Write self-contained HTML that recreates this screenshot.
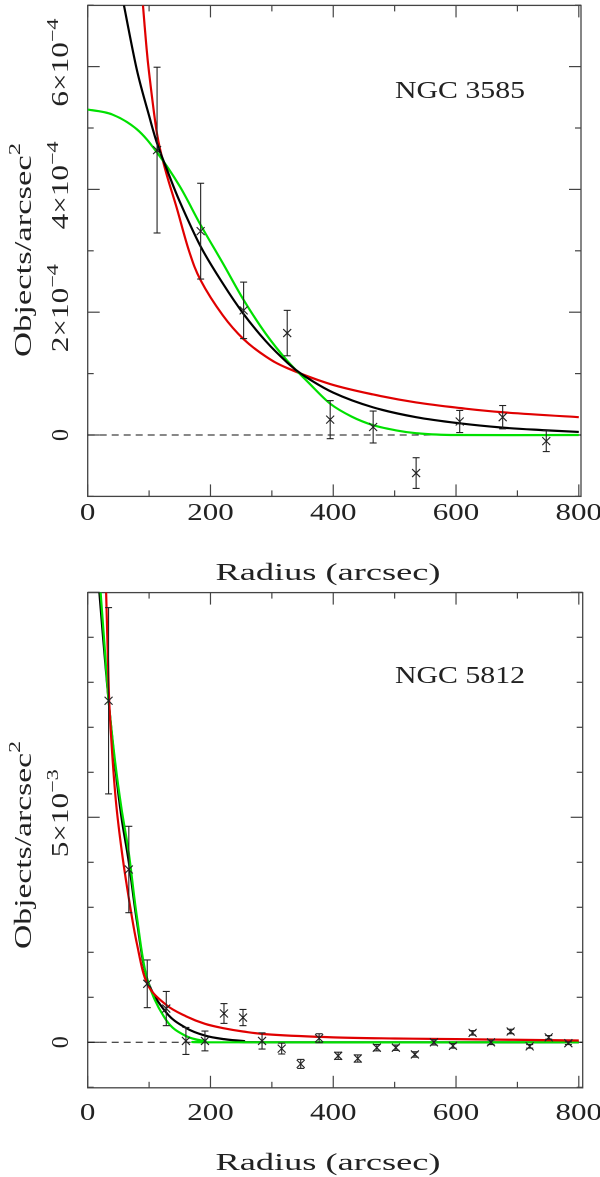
<!DOCTYPE html>
<html><head><meta charset="utf-8"><style>
html,body{margin:0;padding:0;background:#fff;}
svg{display:block;}
text{font-family:"Liberation Serif","DejaVu Serif",serif;fill:#222;}
</style></head>
<body>
<svg id="fig" width="600" height="1177" viewBox="0 0 600 1177" xmlns="http://www.w3.org/2000/svg">
<g id="p1"></g>
<g id="p2"></g>
</svg>
<script>
// ---------- Panel 1 data (NGC 3585), y in units of 1e-4 ----------
const p1R = [113,184,254,325,395,465,535,606,676,747];
const p1Val = [4.64,3.32,2.03,1.66,0.25,0.13,-0.62,0.22,0.29,-0.10];
const p1Err = [1.35,0.78,0.46,0.37,0.31,0.26,0.25,0.18,0.19,0.17];
const p1BlackR = [59,80,100,113,130,150,184,220,254,290,325,350,400,465,535,606,676,740,800];
const p1BlackV = [7.0,5.95,5.2,4.75,4.3,3.8,3.07,2.47,1.97,1.53,1.18,0.98,0.69,0.45,0.29,0.19,0.12,0.08,0.05];
const p1RedR = [90,95,100,113,127,145,165,184,220,254,290,325,395,465,535,606,676,800];
const p1RedV = [7.0,6.4,5.9,4.9,4.3,3.7,3.0,2.52,1.95,1.56,1.28,1.09,0.83,0.66,0.53,0.44,0.37,0.29];
const p1GreenR = [0,40,80,113,150,184,220,254,290,325,360,395,430,465,500,535,600,800];
const p1GreenV = [5.3,5.22,4.98,4.6,4.05,3.42,2.8,2.2,1.65,1.21,0.85,0.51,0.3,0.16,0.08,0.03,0.0,0.0];
const p1YTicks = [0,2,4,6];
const p1YLabels = ["0","2×10","4×10","6×10"];
const p1YExp = ["","−4","−4","−4"];

// ---------- Panel 2 data (NGC 5812), y in units of 1e-3 ----------
const p2R = [34,67,97,128,160,191,222,253,284,316,347,377,408,440,471,502,533,564,595,627,657,689,720,751,783];
const p2Val = [7.59,3.84,1.30,0.75,0.03,0.03,0.64,0.55,0.03,-0.14,-0.48,0.09,-0.30,-0.36,-0.12,-0.12,-0.27,0.0,-0.08,0.21,0.0,0.24,-0.09,0.11,-0.02];
const p2Err = [2.07,0.96,0.53,0.38,0.30,0.22,0.22,0.18,0.18,0.12,0.10,0.10,0.08,0.08,0.07,0.06,0.06,0.06,0.05,0.05,0.05,0.05,0.04,0.04,0.03];
const p2BlackR = [19,25,34,45,55,67,80,97,128,160,191,222,253,300,800];
const p2BlackV = [10,9.0,7.6,6.1,5.0,4.0,2.7,1.4,0.66,0.32,0.15,0.07,0.03,0.0,0.0];
const p2RedR = [30,33,36,45,55,67,80,97,128,160,191,222,253,300,400,500,600,800];
const p2RedV = [10,8.5,7.3,5.5,4.3,3.2,2.2,1.3,0.83,0.58,0.41,0.31,0.24,0.17,0.11,0.085,0.07,0.04];
const p2GreenR = [21,27,34,45,55,67,80,97,128,160,191,222,800];
const p2GreenV = [10,8.9,7.6,6.2,5.2,4.2,2.8,1.4,0.49,0.14,0.03,0.0,0.0];
const p2YTicks = [0,5];
const p2YLabels = ["0","5×10"];
const p2YExp = ["","−3"];
const xTicks = [0,200,400,600,800];

const NS = "http://www.w3.org/2000/svg";
function mk(parent, tag, attrs){
  const e = document.createElementNS(NS, tag);
  for (const k in attrs) e.setAttribute(k, attrs[k]);
  parent.appendChild(e);
  return e;
}
function smoothPath(pts){
  let d = "M"+pts[0][0].toFixed(2)+","+pts[0][1].toFixed(2);
  for (let i=0;i<pts.length-1;i++){
    const p0 = pts[Math.max(0,i-1)], p1 = pts[i], p2 = pts[i+1], p3 = pts[Math.min(pts.length-1,i+2)];
    const c1x = p1[0]+(p2[0]-p0[0])/6, c1y = p1[1]+(p2[1]-p0[1])/6;
    const c2x = p2[0]-(p3[0]-p1[0])/6, c2y = p2[1]-(p3[1]-p1[1])/6;
    d += " C"+c1x.toFixed(2)+","+c1y.toFixed(2)+" "+c2x.toFixed(2)+","+c2y.toFixed(2)+" "+p2[0].toFixed(2)+","+p2[1].toFixed(2);
  }
  return d;
}

function panel(g, cfg){
  const L=cfg.L, R=cfg.R, T=cfg.T, B=cfg.B;
  const xS = v => 87.7 + (v/800)*(578.8-87.7);
  const yS = v => cfg.y0 - v*cfg.yUnit;
  const defs = mk(g,'clipPath',{id:cfg.id+'clip'});
  mk(defs,'rect',{x:L,y:T,width:R-L,height:B-T});
  const fr = mk(g,'rect',{x:L,y:T,width:R-L,height:B-T,fill:'none',stroke:'#444','stroke-width':1.3});
  
  
  for (let v=0; v<=800; v+=100){
    const x = xS(v), len = (v%200===0)?12:6;
    const t1 = mk(g,'line',{x1:x,y1:B,x2:x,y2:B-len,stroke:'#444','stroke-width':1.2});
    
    
    const t2 = mk(g,'line',{x1:x,y1:T,x2:x,y2:T+len,stroke:'#444','stroke-width':1.2});
    
    
  }
  xTicks.forEach(v=>{
    const s = String(v);
    const t = mk(g,'text',{x:xS(v),y:cfg.xLabY,'font-size':24,'text-anchor':'middle',textLength:s.length*15.5,lengthAdjust:'spacingAndGlyphs'});
    t.textContent = s;
    
    
  });
  for (let v=cfg.yMin; v<=cfg.yMax+1e-9; v+=1){
    const y = yS(v), len = (cfg.major(v))?12:6;
    if (y<T-0.5||y>B+0.5) continue;
    const t1 = mk(g,'line',{x1:L,y1:y,x2:L+len,y2:y,stroke:'#444','stroke-width':1.2});
    
    
    const t2 = mk(g,'line',{x1:R,y1:y,x2:R-len,y2:y,stroke:'#444','stroke-width':1.2});
    
    
  }
  cfg.yTicks.forEach((v,i)=>{
    const y = yS(v) - (cfg.yExp[i]?4:0);
    const attrs = {transform:'translate(68,'+y+') rotate(-90)','font-size':24,'text-anchor':'middle'};
    if (cfg.yExp[i]) { attrs.textLength = 88; attrs.lengthAdjust = 'spacingAndGlyphs'; }
    const t = mk(g,'text',attrs);
    
    
    t.textContent = cfg.yLabels[i];
    if (cfg.yExp[i]){
      const s = mk(t,'tspan',{dy:-10,'font-size':17});
      s.textContent = cfg.yExp[i];
    }
  });
  const yt = mk(g,'text',{transform:'translate(31,'+cfg.titleY+') rotate(-90)','font-size':24,'text-anchor':'middle',textLength:cfg.titleLen,lengthAdjust:'spacingAndGlyphs'});
  
  
  yt.textContent = 'Objects/arcsec';
  const sup = mk(yt,'tspan',{dy:-11,'font-size':17}); sup.textContent='2';
  const xt = mk(g,'text',{x:328,y:cfg.xTitleY,'font-size':24,'text-anchor':'middle',textLength:225,lengthAdjust:'spacingAndGlyphs'});
  
  
  xt.textContent = 'Radius (arcsec)';
  const nm = mk(g,'text',{x:395,y:cfg.nameY,'font-size':24,textLength:130,lengthAdjust:'spacingAndGlyphs'});
  
  
  nm.textContent = cfg.name;
  const zl = mk(g,'line',{x1:L,y1:yS(0),x2:R,y2:yS(0),stroke:'#111','stroke-width':1,'stroke-dasharray':'7,5'});
  
  
  const cg = mk(g,'g',{'clip-path':'url(#'+cfg.id+'clip)'});
  cfg.curves.forEach(c=>{
    const pts = c.r.map((r,i)=>[xS(r),yS(c.v[i])]);
    const p = mk(cg,'path',{d:smoothPath(pts),fill:'none',stroke:c.color,'stroke-width':2.2});
    
    
  });
  cfg.r.forEach((r,i)=>{
    const x = xS(r), y = yS(cfg.val[i]);
    const yt2 = yS(cfg.val[i]+cfg.err[i]), yb = yS(cfg.val[i]-cfg.err[i]);
    const pg = mk(g,'g',{stroke:'#222','stroke-width':1.1,fill:'none'});
    
    
    mk(pg,'line',{x1:x,y1:yt2,x2:x,y2:yb});
    mk(pg,'line',{x1:x-3.5,y1:yt2,x2:x+3.5,y2:yt2});
    mk(pg,'line',{x1:x-3.5,y1:yb,x2:x+3.5,y2:yb});
    mk(pg,'line',{x1:x-4,y1:y-4,x2:x+4,y2:y+4});
    mk(pg,'line',{x1:x-4,y1:y+4,x2:x+4,y2:y-4});
  });
}

panel(document.getElementById('p1'),{
  id:'a', L:87.7, R:581, T:5.4, B:496.4, y0:435, yUnit:61.4, yMin:-1, yMax:7,
  major:v=>v%2===0, yTicks:p1YTicks, yLabels:p1YLabels, yExp:p1YExp,
  titleY:250, titleLen:214, xLabY:520, xTitleY:580, nameY:98, name:'NGC 3585',
  r:p1R, val:p1Val, err:p1Err,
  curves:[
    {name:'red-fit-curve',color:'#e00000',r:p1RedR,v:p1RedV},
    {name:'green-fit-curve',color:'#00e000',r:p1GreenR,v:p1GreenV},
    {name:'black-fit-curve',color:'#000000',r:p1BlackR,v:p1BlackV}
  ]
});
panel(document.getElementById('p2'),{
  id:'b', L:87.7, R:582.7, T:592.6, B:1087.8, y0:1042.3, yUnit:45, yMin:-1, yMax:10,
  major:v=>v%5===0, yTicks:p2YTicks, yLabels:p2YLabels, yExp:p2YExp,
  titleY:845, titleLen:208, xLabY:1120, xTitleY:1170, nameY:683, name:'NGC 5812',
  r:p2R, val:p2Val, err:p2Err,
  curves:[
    {name:'black-fit-curve',color:'#000000',r:p2BlackR,v:p2BlackV},
    {name:'green-fit-curve',color:'#00e000',r:p2GreenR,v:p2GreenV},
    {name:'red-fit-curve',color:'#e00000',r:p2RedR,v:p2RedV}
  ]
});
</script>
</body></html>
